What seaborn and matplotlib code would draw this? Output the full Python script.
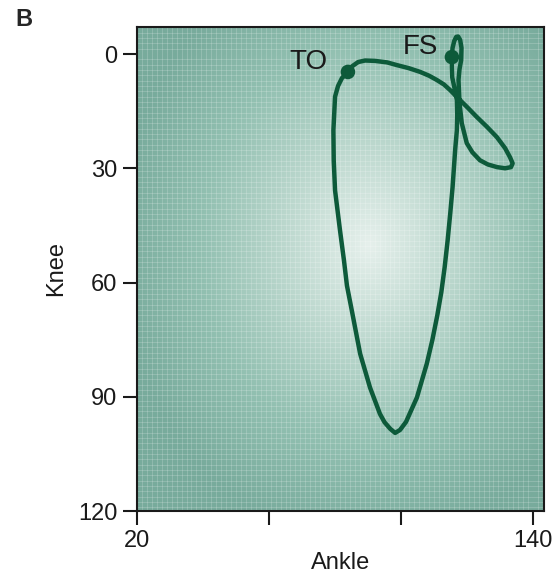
import numpy as np
import pandas as pd
import matplotlib
matplotlib.use("Agg")
import matplotlib.pyplot as plt
import seaborn as sns
from matplotlib.colors import LinearSegmentedColormap

# Gait cycle angle-angle trace (Ankle vs Knee), starting at toe-off
ankle = [83.9, 85.2, 87.0, 89.1, 92.1, 95.8, 98.7, 102.3, 105.8, 108.5, 110.8, 113.0,
         114.9, 117.4, 120.2, 122.9, 126.0, 129.0, 131.5, 133.0, 133.8, 133.3, 131.5,
         129.1, 126.3, 123.9, 121.6, 119.9, 118.4, 117.7, 117.4, 117.7, 118.2, 118.3,
         117.9, 117.3, 116.7, 116.1, 115.6, 115.4, 115.4, 115.5, 116.2, 116.9, 117.0,
         116.9, 116.4, 116.0, 115.6, 114.9, 114.1, 113.2, 112.2, 111.0, 109.5, 107.8,
         104.8, 101.5, 99.7, 98.2, 96.7, 95.0, 93.6, 90.6, 87.6, 85.2, 83.6, 82.7,
         81.5, 80.0, 79.6, 79.5, 80.0, 80.9, 82.1, 83.9]
knee = [4.7, 3.2, 2.1, 1.7, 1.8, 2.2, 2.9, 3.7, 4.7, 5.7, 6.8, 8.0,
        9.5, 11.7, 14.1, 16.5, 19.1, 21.8, 24.7, 27.1, 28.7, 29.7, 30.0,
        29.7, 29.0, 27.9, 25.8, 23.4, 18.2, 12.9, 6.8, 4.0, 1.6, -1.6,
        -3.7, -4.6, -4.5, -3.4, -1.6, 0.8, 3.5, 6.1, 9.0, 12.1, 16.0,
        20.0, 25.0, 30.0, 35.0, 41.8, 49.0, 56.0, 62.5, 68.5, 75.0, 81.3,
        90.2, 96.6, 98.7, 99.5, 98.4, 96.7, 94.5, 87.6, 78.7, 67.9, 60.8, 54.2,
        46.3, 35.8, 28.0, 20.0, 11.2, 8.4, 6.3, 4.7]

event_labels = ["TO", "FS"]
event_ankle = [83.9, 115.4]
event_knee = [4.7, 0.8]
label_ankle = [71.8, 105.8]
label_knee = [2.1, -1.9]

x_ticks = [20, 60, 100, 140]
x_ticklabels = ["20", "", "", "140"]
y_ticks = [0, 30, 60, 90, 120]

sns.set_theme(style="white")
plt.rcParams["font.family"] = ["Liberation Sans", "DejaVu Sans"]

fig = plt.figure(figsize=(5.59, 5.76), dpi=100)
ax = fig.add_axes([137/559, 1-511/576, (544-137)/559, (511-27)/576])

# radial green gradient background
ny, nx = 300, 300
yy, xx = np.mgrid[0:1:ny*1j, 0:1:nx*1j]
cx, cy = 0.57, 0.55
r = np.sqrt(((xx-cx)/0.62)**2 + ((yy-cy)/0.62)**2)
r = np.clip(r, 0, 1)
cmap = LinearSegmentedColormap.from_list("bg", ["#e6f0ec", "#bcd8ce", "#92c0b1", "#78ab9c"])
ax.imshow(r, cmap=cmap, vmin=0, vmax=1, extent=[0, 1, 0, 1], transform=ax.transAxes,
          aspect="auto", zorder=0, origin="lower", interpolation="bilinear")
# fine grid texture
ax.set_xticks(np.arange(20, 145, 1.5), minor=True)
ax.set_yticks(np.arange(-7, 121, 1.4), minor=True)
ax.grid(which="minor", color="white", lw=0.5, alpha=0.25)
ax.grid(which="major", visible=False)

df = pd.DataFrame({"Ankle": ankle, "Knee": knee})
sns.lineplot(data=df, x="Ankle", y="Knee", sort=False, estimator=None, ax=ax,
             color="#0d5a3a", lw=3.2, zorder=3, solid_joinstyle="round", solid_capstyle="round")
ev = pd.DataFrame({"Ankle": event_ankle, "Knee": event_knee})
sns.scatterplot(data=ev, x="Ankle", y="Knee", ax=ax, color="#0d5a3a", s=110,
                edgecolor="none", zorder=4)
for lab, lx, ly in zip(event_labels, label_ankle, label_knee):
    ax.text(lx, ly, lab, fontsize=20, ha="center", va="center", color="#1a1a1a", zorder=5)

ax.set_xlim(20, 143.3)
ax.set_ylim(120, -7.1)
ax.set_xticks(x_ticks)
ax.set_xticklabels(x_ticklabels)
ax.set_yticks(y_ticks)
ax.tick_params(axis="both", which="major", direction="out", length=10, width=1.5,
               labelsize=17, pad=4, colors="#1a1a1a", bottom=True, left=True)
ax.tick_params(axis="both", which="minor", length=0)
for s in ax.spines.values():
    s.set_color("#1a1a1a")
    s.set_linewidth(1.5)
    s.set_visible(True)
ax.set_xlabel("Ankle", fontsize=17, labelpad=0, color="#1a1a1a")
ax.set_ylabel("Knee", fontsize=17, labelpad=8, color="#1a1a1a")
fig.text(15/559, 1-20/576, "B", fontsize=17, fontweight="bold", ha="left", va="center")

fig.savefig("out.png", dpi=100)
